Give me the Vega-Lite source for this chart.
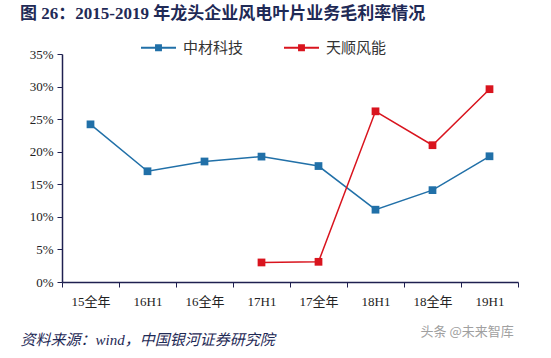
{
  "$schema": "https://vega.github.io/schema/vega-lite/v6.json",
  "width": 456,
  "height": 228,
  "autosize": {"type": "none"},
  "padding": {"left": 62, "top": 54, "right": 33, "bottom": 76},
  "background": "white",
  "config": {"view": {"stroke": null}, "font": "Liberation Serif"},
  "title": {
    "text": "图 26：2015-2019 年龙头企业风电叶片业务毛利率情况",
    "anchor": "start",
    "frame": "group",
    "dx": -42,
    "offset": 6,
    "fontSize": 17,
    "fontWeight": "bold",
    "font": "Liberation Serif, Noto Sans CJK SC",
    "color": "#1F2A56"
  },
  "data": {
    "values": [
      {"period": "15全年", "company": "中材科技", "margin": 0.242},
      {"period": "16H1", "company": "中材科技", "margin": 0.170},
      {"period": "16全年", "company": "中材科技", "margin": 0.185},
      {"period": "17H1", "company": "中材科技", "margin": 0.1925},
      {"period": "17全年", "company": "中材科技", "margin": 0.178},
      {"period": "18H1", "company": "中材科技", "margin": 0.111},
      {"period": "18全年", "company": "中材科技", "margin": 0.141},
      {"period": "19H1", "company": "中材科技", "margin": 0.193},
      {"period": "17H1", "company": "天顺风能", "margin": 0.030},
      {"period": "17全年", "company": "天顺风能", "margin": 0.031},
      {"period": "18H1", "company": "天顺风能", "margin": 0.262},
      {"period": "18全年", "company": "天顺风能", "margin": 0.210},
      {"period": "19H1", "company": "天顺风能", "margin": 0.296}
    ]
  },
  "encoding": {
    "x": {
      "field": "period",
      "type": "nominal",
      "sort": ["15全年", "16H1", "16全年", "17H1", "17全年", "18H1", "18全年", "19H1"],
      "scale": {"paddingInner": 0, "paddingOuter": 0},
      "axis": {
        "title": "资料来源：wind，中国银河证券研究院",
        "titleAnchor": "start",
        "titleAlign": "left",
        "titleX": -42,
        "titleY": 50,
        "titleFont": "Liberation Serif, Noto Sans CJK SC",
        "titleFontStyle": "italic",
        "titleFontWeight": "normal",
        "titleFontSize": 15,
        "titleColor": "#1F2A56",
        "labelAngle": 0,
        "labelFont": "Liberation Serif, Noto Sans CJK SC",
        "labelFontSize": 13,
        "labelColor": "#222222",
        "labelPadding": 8,
        "tickBand": "extent",
        "tickSize": 5,
        "tickColor": "#1F2050",
        "domainColor": "#1F2050",
        "domainWidth": 1.5
      }
    },
    "y": {
      "field": "margin",
      "type": "quantitative",
      "scale": {"domain": [0, 0.35], "nice": false},
      "axis": {
        "format": ".0%",
        "values": [0, 0.05, 0.1, 0.15, 0.2, 0.25, 0.3, 0.35],
        "title": "头条 @未来智库",
        "titleAngle": 0,
        "titleX": 358,
        "titleY": 284,
        "titleAlign": "left",
        "titleFont": "Noto Sans CJK SC",
        "titleFontWeight": "normal",
        "titleFontSize": 13,
        "titleColor": "#A0A0A0",
        "labelFont": "Liberation Serif",
        "labelFontSize": 13,
        "labelColor": "#222222",
        "labelPadding": 4,
        "tickSize": 5,
        "tickColor": "#1F2050",
        "domainColor": "#1F2050",
        "domainWidth": 1.5,
        "grid": false
      }
    },
    "color": {
      "field": "company",
      "type": "nominal",
      "sort": ["中材科技", "天顺风能"],
      "scale": {"domain": ["中材科技", "天顺风能"], "range": ["#2170A8", "#D9141E"]},
      "legend": {
        "title": null,
        "orient": "none",
        "legendX": 78,
        "legendY": -25,
        "direction": "horizontal",
        "labelFont": "Noto Sans CJK SC",
        "labelFontSize": 15,
        "labelColor": "#333333",
        "symbolType": "M-1,0L1,0M-0.14,-0.14L0.14,-0.14L0.14,0.14L-0.14,0.14Z",
        "symbolSize": 1225,
        "symbolStrokeWidth": 2,
        "columnPadding": 36,
        "labelOffset": 6
      }
    }
  },
  "layer": [
    {"mark": {"type": "line", "strokeWidth": 1.5}},
    {"mark": {"type": "point", "shape": "square", "filled": true, "size": 60, "opacity": 1}}
  ]
}
